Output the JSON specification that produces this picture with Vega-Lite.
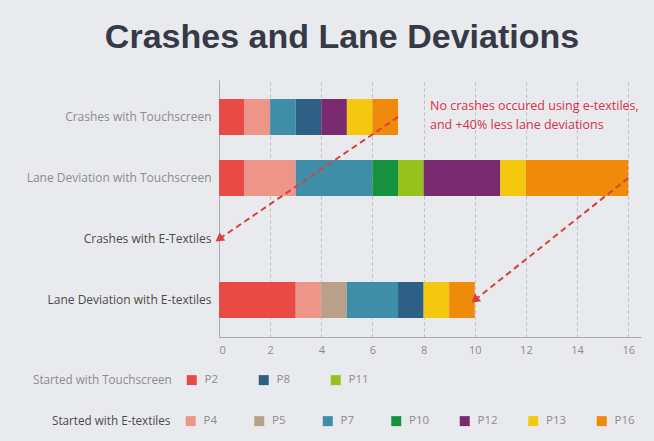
{
  "$schema": "https://vega.github.io/schema/vega-lite/v6.json",
  "autosize": "none",
  "width": 422,
  "height": 257,
  "padding": {"left": 219, "top": 80, "right": 13, "bottom": 104},
  "background": "#e9eaed",
  "title": {
    "text": "Crashes and Lane Deviations",
    "font": "Liberation Sans",
    "fontSize": 34,
    "fontWeight": "bold",
    "color": "#363946",
    "anchor": "middle",
    "baseline": "alphabetic",
    "dx": -88,
    "dy": 30,
    "offset": 28
  },
  "config": {
    "view": {"stroke": null},
    "font": "Open Sans"
  },
  "datasets": {
    "bars": [
      {"row": "Crashes with Touchscreen", "participant": "P2", "pnum": 2, "count": 1},
      {"row": "Crashes with Touchscreen", "participant": "P4", "pnum": 4, "count": 1},
      {"row": "Crashes with Touchscreen", "participant": "P7", "pnum": 7, "count": 1},
      {"row": "Crashes with Touchscreen", "participant": "P8", "pnum": 8, "count": 1},
      {"row": "Crashes with Touchscreen", "participant": "P12", "pnum": 12, "count": 1},
      {"row": "Crashes with Touchscreen", "participant": "P13", "pnum": 13, "count": 1},
      {"row": "Crashes with Touchscreen", "participant": "P16", "pnum": 16, "count": 1},
      {"row": "Lane Deviation with Touchscreen", "participant": "P2", "pnum": 2, "count": 1},
      {"row": "Lane Deviation with Touchscreen", "participant": "P4", "pnum": 4, "count": 2},
      {"row": "Lane Deviation with Touchscreen", "participant": "P7", "pnum": 7, "count": 3},
      {"row": "Lane Deviation with Touchscreen", "participant": "P10", "pnum": 10, "count": 1},
      {"row": "Lane Deviation with Touchscreen", "participant": "P11", "pnum": 11, "count": 1},
      {"row": "Lane Deviation with Touchscreen", "participant": "P12", "pnum": 12, "count": 3},
      {"row": "Lane Deviation with Touchscreen", "participant": "P13", "pnum": 13, "count": 1},
      {"row": "Lane Deviation with Touchscreen", "participant": "P16", "pnum": 16, "count": 4},
      {"row": "Lane Deviation with E-textiles", "participant": "P2", "pnum": 2, "count": 3},
      {"row": "Lane Deviation with E-textiles", "participant": "P4", "pnum": 4, "count": 1},
      {"row": "Lane Deviation with E-textiles", "participant": "P5", "pnum": 5, "count": 1},
      {"row": "Lane Deviation with E-textiles", "participant": "P7", "pnum": 7, "count": 2},
      {"row": "Lane Deviation with E-textiles", "participant": "P8", "pnum": 8, "count": 1},
      {"row": "Lane Deviation with E-textiles", "participant": "P13", "pnum": 13, "count": 1},
      {"row": "Lane Deviation with E-textiles", "participant": "P16", "pnum": 16, "count": 1}
    ],
    "arrows": [
      {"from": "Crashes with Touchscreen", "to": "Crashes with E-Textiles", "x": 7, "x2": 0},
      {"from": "Lane Deviation with Touchscreen", "to": "Lane Deviation with E-textiles", "x": 16, "x2": 10}
    ],
    "legend": [
      {"participant": "P2", "group": "touch"},
      {"participant": "P8", "group": "touch"},
      {"participant": "P11", "group": "touch"},
      {"participant": "P4", "group": "etex"},
      {"participant": "P5", "group": "etex"},
      {"participant": "P7", "group": "etex"},
      {"participant": "P10", "group": "etex"},
      {"participant": "P12", "group": "etex"},
      {"participant": "P13", "group": "etex"},
      {"participant": "P16", "group": "etex"}
    ],
    "note": [
      {"row": "Crashes with Touchscreen", "x": 8.25, "text": ["No crashes occured using e-textiles,", "and +40% less lane deviations"]}
    ]
  },
  "resolve": {"scale": {"color": "independent"}, "legend": {"color": "independent"}},
  "layer": [
    {
      "data": {"name": "bars"},
      "mark": {"type": "bar"},
      "encoding": {
        "y": {
          "field": "row",
          "type": "nominal",
          "scale": {
            "domain": ["Crashes with Touchscreen", "Lane Deviation with Touchscreen", "Crashes with E-Textiles", "Lane Deviation with E-textiles"],
            "paddingInner": 0.41,
            "paddingOuter": 0.31
          },
          "axis": {
            "title": null,
            "domain": true,
            "domainColor": "#a9abb0",
            "ticks": false,
            "labelPadding": 8,
            "labelFontSize": 12,
            "labelFont": "Open Sans",
            "labelColor": {"condition": {"test": "indexof(datum.label, 'Touchscreen') >= 0", "value": "#8c8c8c"}, "value": "#4a4a4a"},
            "labelLimit": 250
          }
        },
        "x": {
          "field": "count",
          "type": "quantitative",
          "stack": "zero",
          "scale": {"domain": [0, 16.5], "nice": false},
          "axis": {
            "title": null,
            "values": [0, 2, 4, 6, 8, 10, 12, 14, 16],
            "grid": true,
            "gridColor": "#b9bbc0",
            "gridDash": [3, 3],
            "gridWidth": 1,
            "domainColor": "#a9abb0",
            "ticks": false,
            "labelPadding": 7,
            "labelFontSize": 11,
            "labelColor": "#8c8c8c",
            "labelFont": "Open Sans"
          }
        },
        "color": {
          "field": "participant",
          "type": "nominal",
          "scale": {
            "domain": ["P2", "P4", "P5", "P7", "P8", "P10", "P11", "P12", "P13", "P16"],
            "range": ["#e84b45", "#ee958a", "#b9a089", "#3f8ea8", "#2e5f85", "#16913f", "#97c21e", "#7a2a6f", "#f3c80e", "#f08a0a"]
          },
          "legend": null
        },
        "order": {"field": "pnum", "type": "quantitative", "sort": "ascending"}
      }
    },
    {
      "data": {"name": "arrows"},
      "mark": {"type": "rule", "color": "#d8403f", "strokeWidth": 2, "strokeDash": [6, 4]},
      "encoding": {
        "x": {"field": "x", "type": "quantitative"},
        "x2": {"field": "x2"},
        "y": {"field": "from", "type": "nominal"},
        "y2": {"field": "to"}
      }
    },
    {
      "data": {"name": "arrows"},
      "transform": [{"filter": "datum.x == 7"}],
      "mark": {"type": "point", "shape": "triangle-up", "filled": true, "color": "#d8403f", "size": 95, "angle": 235, "opacity": 1},
      "encoding": {
        "x": {"field": "x2", "type": "quantitative"},
        "y": {"field": "to", "type": "nominal"}
      }
    },
    {
      "data": {"name": "arrows"},
      "transform": [{"filter": "datum.x == 16"}],
      "mark": {"type": "point", "shape": "triangle-up", "filled": true, "color": "#d8403f", "size": 95, "angle": 231, "opacity": 1},
      "encoding": {
        "x": {"field": "x2", "type": "quantitative"},
        "y": {"field": "to", "type": "nominal"}
      }
    },
    {
      "data": {"name": "note"},
      "mark": {"type": "text", "align": "left", "baseline": "middle", "dy": -11, "fontSize": 12.5, "lineHeight": 19, "color": "#d6304a", "font": "Open Sans"},
      "encoding": {
        "x": {"field": "x", "type": "quantitative"},
        "y": {"field": "row", "type": "nominal"},
        "text": {"field": "text"}
      }
    },
    {
      "data": {"name": "legend"},
      "transform": [{"filter": "datum.group == 'touch'"}],
      "mark": {"type": "square", "opacity": 0},
      "encoding": {
        "color": {
          "field": "participant",
          "type": "nominal",
          "scale": {"domain": ["P2", "P8", "P11"], "range": ["#e84b45", "#2e5f85", "#97c21e"]},
          "legend": {
            "title": "Started with Touchscreen",
            "orient": "none",
            "direction": "horizontal",
            "legendX": -186,
            "legendY": 294,
            "titleOrient": "left",
            "titleFontSize": 11.7,
            "titleFontWeight": "normal",
            "titleColor": "#8c8c8c",
            "titleFont": "Open Sans",
            "titlePadding": 14,
            "titleBaseline": "middle",
            "symbolType": "square",
            "symbolSize": 100,
            "symbolOpacity": 1,
            "symbolStrokeWidth": 0,
            "labelFontSize": 11.5,
            "labelColor": "#8c8c8c",
            "labelOffset": 7,
            "columnPadding": 33,
            "gridAlign": "all"
          }
        }
      }
    },
    {
      "data": {"name": "legend"},
      "transform": [{"filter": "datum.group == 'etex'"}],
      "mark": {"type": "square", "opacity": 0},
      "encoding": {
        "color": {
          "field": "participant",
          "type": "nominal",
          "scale": {"domain": ["P4", "P5", "P7", "P10", "P12", "P13", "P16"], "range": ["#ee958a", "#b9a089", "#3f8ea8", "#16913f", "#7a2a6f", "#f3c80e", "#f08a0a"]},
          "legend": {
            "title": "Started with E-textiles",
            "orient": "none",
            "direction": "horizontal",
            "legendX": -167,
            "legendY": 335,
            "titleOrient": "left",
            "titleFontSize": 11.7,
            "titleFontWeight": "normal",
            "titleColor": "#4a4a4a",
            "titleFont": "Open Sans",
            "titlePadding": 14,
            "titleBaseline": "middle",
            "symbolType": "square",
            "symbolSize": 100,
            "symbolOpacity": 1,
            "symbolStrokeWidth": 0,
            "labelFontSize": 11.5,
            "labelColor": "#8c8c8c",
            "labelOffset": 7,
            "columnPadding": 29.5,
            "gridAlign": "all"
          }
        }
      }
    }
  ]
}
